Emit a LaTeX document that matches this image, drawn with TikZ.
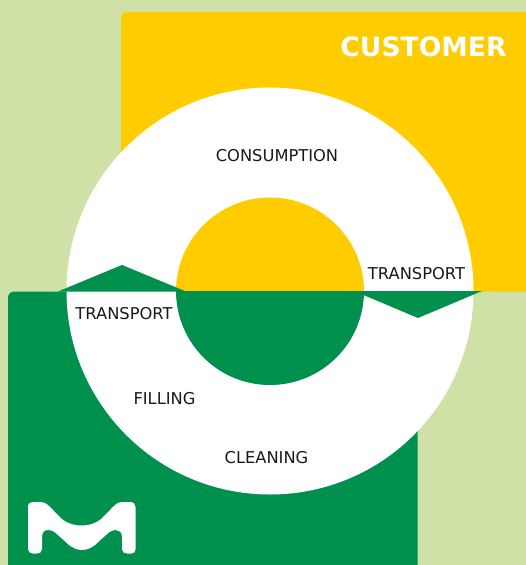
\documentclass[tikz,border=0pt]{standalone}
\usepackage{fontspec}
\setmainfont{DejaVu Sans}
\definecolor{bgl}{HTML}{D0E1A8}
\definecolor{yel}{HTML}{FFCC00}
\definecolor{grn}{HTML}{00904D}
\tikzset{
 lbl/.style={font=\fontsize{16.3}{18}\selectfont,text=black!90,inner sep=0pt,anchor=center},
 hd/.style={font=\fontsize{26.6}{30}\bfseries\selectfont,text=white,inner sep=0pt,anchor=center}
}
\begin{document}
\begin{tikzpicture}[x=1pt,y=-1pt]
\useasboundingbox (0,0) rectangle (526,565);
\fill[bgl] (0,0) rectangle (526,565);
\fill[yel,rounded corners=6pt] (121,12) rectangle (540,291.5);
\fill[grn,rounded corners=6pt] (8,291.5) rectangle (417.5,580);
\coordinate (c) at (270,291);
\fill[white] (c) circle[radius=203.5];
\fill[yel] (176,291.5) arc[start angle=180,end angle=360,radius=94] -- cycle;
\fill[grn] (176,291) arc[start angle=180,end angle=0,radius=94] -- cycle;
\fill[grn] (58,291.5) -- (122,265) -- (186,291.5) -- cycle;
\fill[grn] (354,291) -- (482,291) -- (418,318) -- cycle;
\fill[white] (28,507) .. controls (28,503.5) and (30,502) .. (33,502)
 -- (41,502) .. controls (46,502) and (49,506) .. (53,510)
 -- (62,519) .. controls (68,524) and (75,525.5) .. (81.5,525.5)
 .. controls (88,525.5) and (95,524) .. (101,519)
 -- (110,510) .. controls (114,506) and (117,502) .. (122,502) -- (130,502)
 .. controls (133.5,502) and (135.5,504) .. (135.5,507) -- (135.5,549)
 .. controls (135.5,552) and (134,553.5) .. (131,553.5) -- (127,553.5)
 .. controls (124,553.5) and (122,552) .. (122,549) -- (122,537)
 .. controls (122,532) and (119,530) .. (116,530)
 .. controls (112,530) and (109,532) .. (106,535)
 -- (95,545) .. controls (91,548) and (87,550) .. (82,550)
 .. controls (77,550) and (73,548) .. (69,545)
 -- (58,535) .. controls (55,532) and (52,530) .. (48,530)
 .. controls (44.5,530) and (42,532) .. (42,537) -- (42,549)
 .. controls (42,552) and (40,553.5) .. (37,553.5) -- (33,553.5)
 .. controls (30,553.5) and (28,552) .. (28,549) -- cycle;
\node[hd] (cust) at (423.5,47) {CUSTOMER};
\node[lbl] (cons) at (277,155.5) {CONSUMPTION};
\node[lbl] (tr) at (416.5,273.5) {TRANSPORT};
\node[lbl] (tl) at (124,314) {TRANSPORT};
\node[lbl] (fill) at (164.5,398.5) {FILLING};
\node[lbl] (clean) at (266.5,457.5) {CLEANING};
\end{tikzpicture}
\end{document}
